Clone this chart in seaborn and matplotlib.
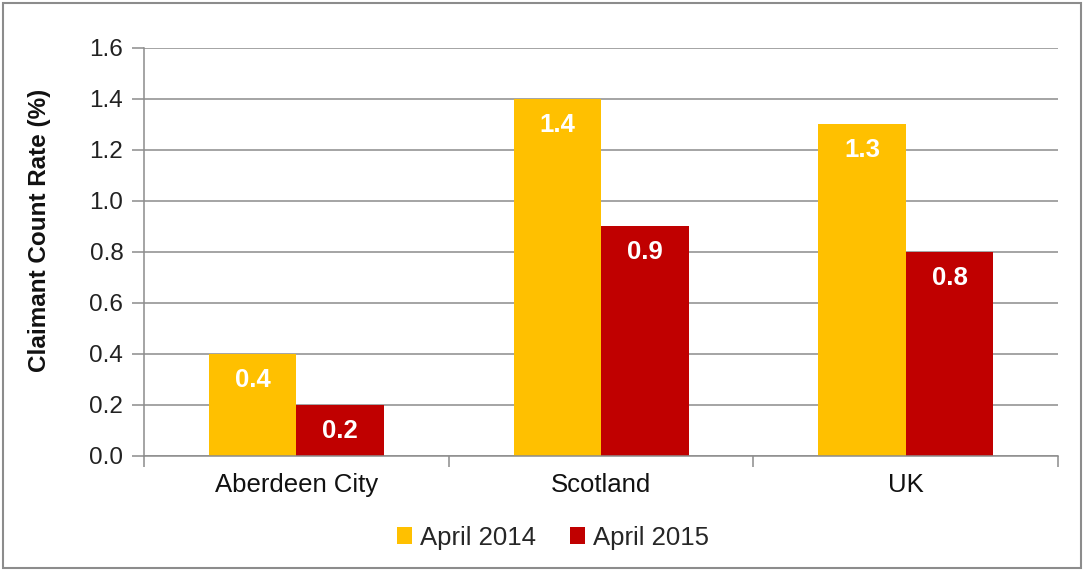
import matplotlib
matplotlib.use("Agg")
import matplotlib.pyplot as plt
import seaborn as sns
import pandas as pd
from matplotlib.patches import Rectangle
from matplotlib.ticker import FixedLocator

categories = ["Aberdeen City", "Scotland", "UK"]
series_names = ["April 2014", "April 2015"]
april_2014 = [0.4, 1.4, 1.3]
april_2015 = [0.2, 0.9, 0.8]
y_ticks = [0.0, 0.2, 0.4, 0.6, 0.8, 1.0, 1.2, 1.4, 1.6]
colors = ["#FFC000", "#C00000"]

df = pd.DataFrame({
    "Area": categories * 2,
    "Series": [series_names[0]] * 3 + [series_names[1]] * 3,
    "Value": april_2014 + april_2015,
})

sns.set_theme(style="white")
plt.rcParams["font.family"] = ["Liberation Sans", "DejaVu Sans"]

fig = plt.figure(figsize=(10.84, 5.70), dpi=100)
ax = fig.add_axes([0.133, 0.2, 0.843, 0.716])

sns.barplot(data=df, x="Area", y="Value", hue="Series", palette=colors,
            width=0.575, saturation=1, ax=ax, legend=True, edgecolor="none",
            linewidth=0)

ax.set_ylim(0, 1.6)
ax.set_xlim(-0.5, 2.5)
ax.set_yticks(y_ticks)
ax.set_yticklabels([f"{t:.1f}" for t in y_ticks], fontsize=17.5, color="#222222")
ax.yaxis.grid(True, color="#8C8C8C", linewidth=1.1)
ax.set_axisbelow(True)
ax.tick_params(axis="y", which="major", length=9, width=1.1, color="#8C8C8C",
               left=True, pad=6)
ax.tick_params(axis="x", which="major", length=0, labelsize=18.5, pad=12,
               labelcolor="#111111")
ax.xaxis.set_minor_locator(FixedLocator([-0.5, 0.5, 1.5, 2.5]))
ax.tick_params(axis="x", which="minor", length=8, width=1.1, color="#8C8C8C",
               bottom=True)
for side in ["top", "right"]:
    ax.spines[side].set_visible(False)
for side in ["left", "bottom"]:
    ax.spines[side].set_color("#8C8C8C")
    ax.spines[side].set_linewidth(1.1)
ax.set_xlabel("")
ax.set_ylabel("Claimant Count Rate (%)", fontsize=17.5, fontweight="bold",
              color="#111111")
ax.yaxis.set_label_coords(-0.102, 0.554)

for container in ax.containers:
    for bar in container:
        h = bar.get_height()
        ax.annotate(f"{h:.1f}", (bar.get_x() + bar.get_width() / 2, h),
                    xytext=(0, -26), textcoords="offset pixels",
                    ha="center", va="center", color="white",
                    fontsize=18.5, fontweight="bold")

leg = ax.get_legend()
handles = leg.legend_handles
leg.remove()
fig.legend(handles, series_names, loc="center", bbox_to_anchor=(0.51, 0.057),
           ncol=2, frameon=False, fontsize=18.5, handlelength=0.6,
           handleheight=0.6, handletextpad=0.3, columnspacing=1.3)

fig.patches.append(Rectangle((0.003, 0.004), 0.994, 0.99, transform=fig.transFigure,
                             fill=False, edgecolor="#8C8C8C", linewidth=1.5))

fig.savefig("out.png", dpi=100, facecolor="white")
